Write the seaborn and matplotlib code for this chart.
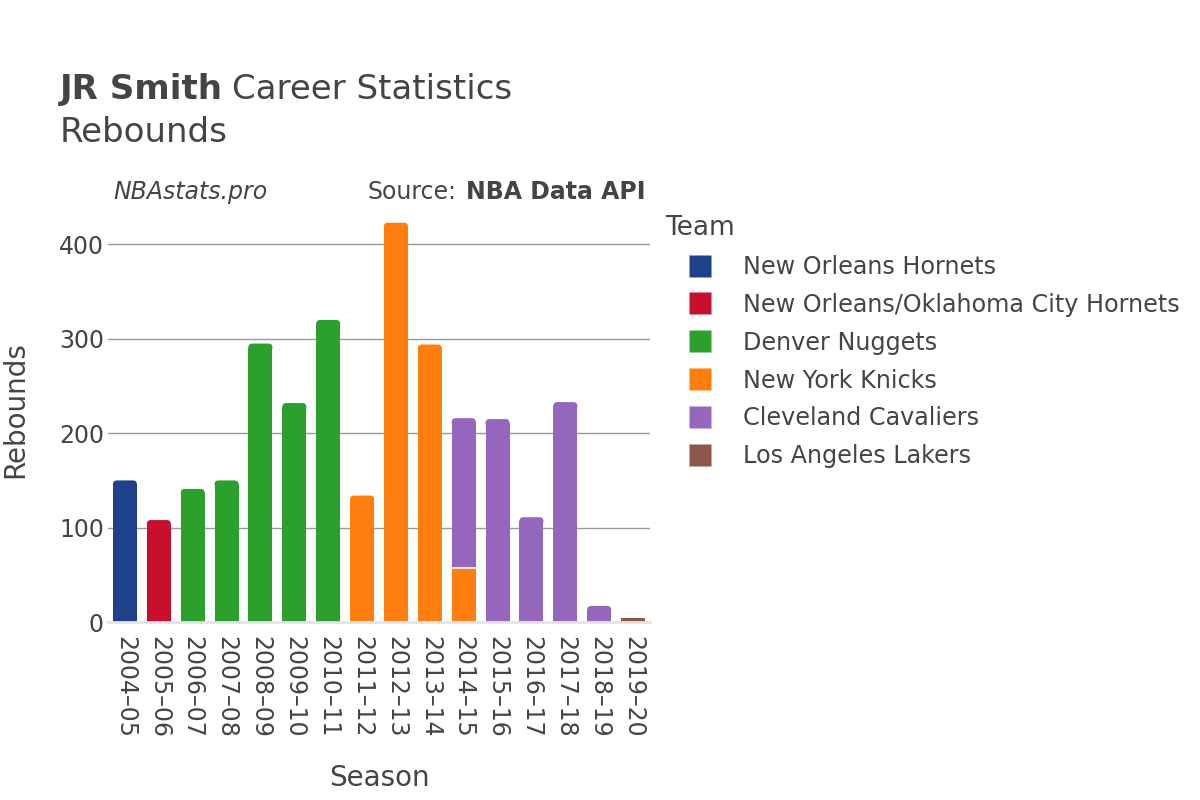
import matplotlib
matplotlib.use("Agg")
import matplotlib.pyplot as plt
import seaborn as sns
import numpy as np
import pandas as pd
from matplotlib.lines import Line2D
from matplotlib.patches import FancyBboxPatch

seasons = ["2004–05", "2005–06", "2006–07", "2007–08", "2008–09", "2009–10",
           "2010–11", "2011–12", "2012–13", "2013–14", "2014–15", "2015–16",
           "2016–17", "2017–18", "2018–19", "2019–20"]
teams = ["New Orleans Hornets", "New Orleans/Oklahoma City Hornets",
         "Denver Nuggets", "New York Knicks", "Cleveland Cavaliers",
         "Los Angeles Lakers"]
team_colors = ["#1f418a", "#c8102e", "#2ca02c", "#ff7f0e", "#9467bd", "#8c564b"]

hornets = [150, 0, 0, 0, 0, 0, 0, 0, 0, 0, 0, 0, 0, 0, 0, 0]
no_okc = [0, 108, 0, 0, 0, 0, 0, 0, 0, 0, 0, 0, 0, 0, 0, 0]
nuggets = [0, 0, 141, 150, 295, 232, 320, 0, 0, 0, 0, 0, 0, 0, 0, 0]
knicks = [0, 0, 0, 0, 0, 0, 0, 134, 423, 294, 57, 0, 0, 0, 0, 0]
cavs = [0, 0, 0, 0, 0, 0, 0, 0, 0, 0, 159, 215, 111, 233, 17, 0]
lakers = [0, 0, 0, 0, 0, 0, 0, 0, 0, 0, 0, 0, 0, 0, 0, 4]
series = [hornets, no_okc, nuggets, knicks, cavs, lakers]

sns.set_theme(style="white")
plt.rcParams['font.family'] = ['DejaVu Sans']
txt = "#444444"
W, H = 1200, 800


def fx(px):
    return px / W


def fy(py):
    return 1 - py / H


fig = plt.figure(figsize=(12, 8), dpi=100)
ax_l, ax_r, ax_t, ax_b = 108, 650, 202, 622
ax = fig.add_axes([fx(ax_l), fy(ax_b), (ax_r - ax_l) / W, (ax_b - ax_t) / H])

bottom = np.zeros(len(seasons))
for name, vals, col in zip(teams, series, team_colors):
    vals = np.array(vals, dtype=float)
    df = pd.DataFrame({"Season": seasons, "Rebounds": vals})
    sns.barplot(data=df, x="Season", y="Rebounds", order=seasons, color=col,
                bottom=bottom, width=0.71, ax=ax, saturation=1, linewidth=0)
    bottom = bottom + vals
totals = bottom

ymax = 445
ax.set_ylim(0, ymax)
ax.set_xlim(-0.5, len(seasons) - 0.5)

# round the top corners of the top segment of each stack; white seam between segments
px_per_x = (ax_r - ax_l) / len(seasons)
px_per_y = (ax_b - ax_t) / ymax
r_px = 4.0
rx = r_px / px_per_x
ry = r_px / px_per_y
for p in list(ax.patches):
    h = p.get_height()
    if h <= 0:
        continue
    x0, y0, w = p.get_x(), p.get_y(), p.get_width()
    ci = int(round(x0 + w / 2))
    if y0 > 0:
        ax.plot([x0, x0 + w], [y0, y0], color="white", linewidth=1.2,
                zorder=p.get_zorder() + 0.5, solid_capstyle="butt")
    if abs(y0 + h - totals[ci]) < 1e-6 and h > 2 * ry:
        p.set_height(h - ry)
        fb = FancyBboxPatch((x0, y0 + h - 2 * ry), w, 2 * ry,
                            boxstyle=f"round,pad=0,rounding_size={rx}",
                            mutation_aspect=ry / rx,
                            facecolor=p.get_facecolor(), edgecolor="none",
                            linewidth=0, zorder=p.get_zorder())
        ax.add_patch(fb)

ax.set_yticks([0, 100, 200, 300, 400])
ax.yaxis.grid(True, color="#999999", linewidth=1)
ax.set_axisbelow(True)
for s in ["top", "right", "left"]:
    ax.spines[s].set_visible(False)
ax.spines["bottom"].set_color("#e5e5e5")
ax.spines["bottom"].set_linewidth(2)
ax.tick_params(axis="x", labelrotation=-90, labelsize=17, colors=txt, length=0, pad=10)
ax.tick_params(axis="y", labelsize=17, colors=txt, length=0, pad=3)
ax.set_xlabel("Season", fontsize=20, color=txt)
ax.set_ylabel("Rebounds", fontsize=20, color=txt)
ax.xaxis.set_label_coords((379 - ax_l) / (ax_r - ax_l), (ax_b - 764) / (ax_b - ax_t))
ax.yaxis.set_label_coords((29 - ax_l) / (ax_r - ax_l), (ax_b - 410) / (ax_b - ax_t))

fig.canvas.draw()
rend = fig.canvas.get_renderer()

t1 = fig.text(fx(60), fy(99), "JR Smith", fontsize=24.5, fontweight="bold",
              color=txt, va="baseline")
bb = t1.get_window_extent(rend)
fig.text(fx(bb.x1 + 9), fy(99), "Career Statistics", fontsize=24.5, color=txt,
         va="baseline")
fig.text(fx(60), fy(142), "Rebounds", fontsize=24.5, color=txt, va="baseline")
fig.text(fx(113), fy(199), "NBAstats.pro", fontsize=17, style="italic",
         color=txt, va="baseline")
s2 = fig.text(fx(646), fy(199), "NBA Data API", fontsize=17, fontweight="bold",
              color=txt, va="baseline", ha="right")
bb2 = s2.get_window_extent(rend)
fig.text(fx(bb2.x0 - 10), fy(199), "Source:", fontsize=17, color=txt,
         va="baseline", ha="right")

fig.text(fx(665), fy(235), "Team", fontsize=19, color=txt, va="baseline")
handles = [Line2D([], [], marker="s", linestyle="none", markersize=16,
                  markerfacecolor=c, markeredgecolor="none", label=t)
           for t, c in zip(teams, team_colors)]
leg = fig.legend(handles=handles, loc="upper left",
                 bbox_to_anchor=(fx(688), fy(255)), frameon=False, fontsize=17.2,
                 handlelength=1.0, handletextpad=1.3, labelspacing=0.58,
                 borderaxespad=0, borderpad=0)
for t in leg.get_texts():
    t.set_color(txt)

fig.savefig("out.png", dpi=100)
